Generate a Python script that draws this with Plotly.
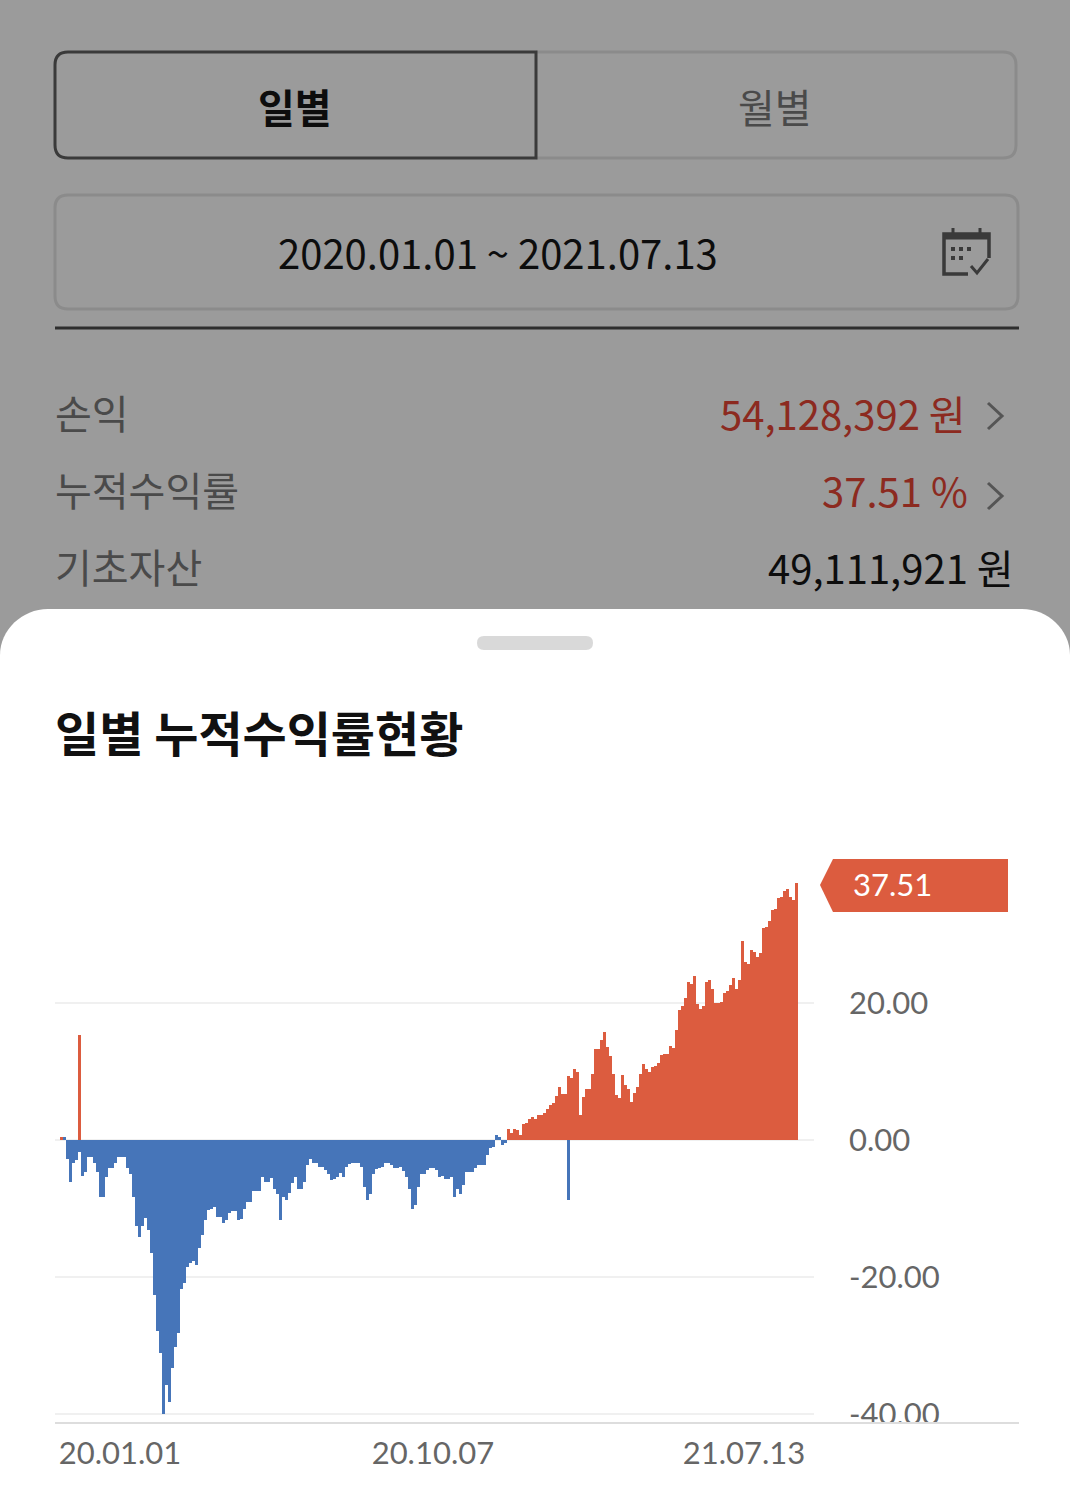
import plotly.graph_objects as go

# Cumulative return (%) per period, oldest first
returns = [
    0.5, 0.4, -2.7, -6.2, -3.3, -2.9, 15.4, -5.3, -4.6, -2.5,
    -2.5, -3.4, -4.6, -8.3, -8.3, -5.35, -4.1, -4.1, -3.4, -2.5,
    -2.5, -2.5, -4.1, -4.9, -8.3, -12.6, -14.1, -12.6, -11.4, -13.1,
    -16.5, -22.6, -27.9, -31.1, -40.0, -35.8, -38.3, -33.3, -30.2, -28.2,
    -21.7, -20.9, -18.5, -18.0, -17.6, -18.3, -15.8, -13.8, -11.7, -10.2,
    -10.0, -9.8, -11.3, -11.3, -12.1, -11.7, -10.7, -10.3, -10.3, -11.7,
    -11.6, -10.1, -9.1, -9.1, -7.4, -7.4, -7.4, -5.4, -6.2, -6.2,
    -5.6, -7.1, -7.9, -11.7, -8.3, -8.8, -7.8, -6.3, -5.4, -7.1,
    -7.1, -6.2, -3.6, -2.8, -3.4, -3.4, -3.9, -3.9, -4.4, -5.0,
    -5.8, -5.7, -5.4, -4.8, -5.4, -3.9, -3.5, -3.4, -3.4, -3.4,
    -3.9, -6.8, -8.8, -7.9, -4.9, -4.3, -4.1, -3.9, -3.4, -3.4,
    -3.7, -4.1, -4.1, -3.9, -4.5, -5.4, -7.1, -10.0, -9.5, -6.8,
    -5.0, -5.0, -4.4, -4.1, -4.1, -4.4, -5.4, -5.2, -5.7, -5.7,
    -5.4, -8.3, -7.1, -7.9, -6.5, -4.6, -4.6, -4.6, -4.1, -3.7,
    -3.7, -3.6, -2.2, -1.2, -1.0, 0.7, 0.4, -0.7, -0.4, 1.6,
    1.0, 1.6, 1.4, 0.8, 2.4, 2.5, 3.0, 3.3, 3.0, 3.6,
    3.7, 3.9, 4.5, 5.1, 5.35, 6.4, 7.8, 6.7, 6.7, 9.3,
    9.0, 10.3, 10.0, 3.65, 6.3, 7.5, 7.5, 9.7, 13.3, 13.3,
    14.6, 15.8, 13.6, 12.2, 9.7, 6.6, 6.2, 9.5, 8.0, 7.4,
    5.6, 6.9, 7.8, 9.7, 11.1, 10.4, 10.0, 10.7, 10.8, 11.2,
    12.4, 12.5, 12.5, 13.7, 13.4, 16.1, 19.0, 19.5, 20.8, 23.1,
    22.8, 23.9, 19.9, 19.1, 19.5, 23.1, 23.3, 22.1, 20.0, 20.0,
    20.2, 21.4, 21.7, 22.6, 23.6, 22.1, 23.4, 29.0, 26.0, 25.7,
    27.7, 27.5, 26.7, 27.3, 30.9, 31.1, 31.9, 33.6, 33.7, 35.3,
    35.5, 36.3, 36.6, 35.5, 35.0, 37.51,
]

# Periods whose intraday low shows as a separate bar under the main one
dip_positions = [6, 169]
dip_values = [-1.7, -8.76]

# Small rebounds that stayed on the loss colour
loss_coloured_positions = [1, 145, 146]

y_ticks = [20, 0, -20, -40]
y_tick_labels = ["20.00", "0.00", "-20.00", "-40.00"]
x_ticks = [19.5, 123.8, 227.5]
x_tick_labels = ["20.01.01", "20.10.07", "21.07.13"]
latest_label = "37.51"

WIDTH, HEIGHT = 1070, 1512
PLOT_L, PLOT_R, PLOT_T, PLOT_B = 55, 814, 830, 1423

GAIN = "#dc5c3f"
LOSS = "#4675b9"
DIM = "#9b9b9b"
CJK = "Noto Sans CJK KR"
LATIN = "Lato"


def px(x):
    return (x - PLOT_L) / (PLOT_R - PLOT_L)


def py(y):
    return (PLOT_B - y) / (PLOT_B - PLOT_T)


def path(*steps):
    out = []
    for step in steps:
        if isinstance(step, str):
            out.append(step)
        else:
            out.append(f"{px(step[0]):.5f},{py(step[1]):.5f}")
    return " ".join(out)


def rounded(x0, y0, x1, y1, r):
    return path("M", (x0 + r, y0), "L", (x1 - r, y0), "Q", (x1, y0), (x1, y0 + r),
                "L", (x1, y1 - r), "Q", (x1, y1), (x1 - r, y1),
                "L", (x0 + r, y1), "Q", (x0, y1), (x0, y1 - r),
                "L", (x0, y0 + r), "Q", (x0, y0), (x0 + r, y0), "Z")


def shape(d, fill=None, line=None, width=0, layer="below"):
    return dict(type="path", xref="paper", yref="paper", path=d, layer=layer,
                fillcolor=fill or "rgba(0,0,0,0)",
                line=dict(color=line or "rgba(0,0,0,0)", width=width))


def label(text, x, y, size, color, anchor="left", bold=False, font=CJK):
    weight = 700 if bold else 400
    return dict(text=text, xref="paper", yref="paper", x=px(x), y=py(y), showarrow=False,
                xanchor=anchor, yanchor="middle", borderpad=0, borderwidth=0,
                font=dict(family=font, size=size, color=color, weight=weight))


positions = list(range(len(returns)))
bar_colours = [GAIN if v >= 0 and i not in loss_coloured_positions else LOSS
               for i, v in enumerate(returns)]

fig = go.Figure()
fig.add_bar(x=positions, y=returns, marker=dict(color=bar_colours, line=dict(width=0)),
            width=1, name="누적수익률")
fig.add_bar(x=dip_positions, y=dip_values, marker=dict(color=LOSS, line=dict(width=0)),
            width=1, name="저점")

shapes = [
    # sheet over the dimmed page
    shape(path("M", (0, HEIGHT), "L", (0, 655), "C", (0, 630), (22, 609), (48, 609),
               "L", (1022, 609), "C", (1048, 609), (1070, 630), (1070, 655),
               "L", (1070, HEIGHT), "Z"), fill="white"),
    shape(rounded(477, 636, 593, 650, 7), fill="#d9d9d9"),
    # day / month toggle
    shape(path("M", (536, 52), "L", (1003, 52), "Q", (1016, 52), (1016, 65),
               "L", (1016, 145), "Q", (1016, 158), (1003, 158), "L", (536, 158)),
          line="#8b8b8b", width=3),
    shape(path("M", (536, 52), "L", (68, 52), "Q", (55, 52), (55, 65),
               "L", (55, 145), "Q", (55, 158), (68, 158), "L", (536, 158), "Z"),
          line="#3a3a3a", width=3),
    # period picker
    shape(rounded(55, 195, 1018, 309, 13), line="#8b8b8b", width=3),
    shape(path("M", (55, 328), "L", (1019, 328)), line="#2e2e2e", width=3),
    # calendar glyph
    shape(path("M", (968, 274), "L", (944, 274), "L", (944, 234), "L", (989, 234), "L", (989, 258)),
          line="#3a3a3a", width=3.5),
    shape(path("M", (944, 237), "L", (989, 237)), line="#3a3a3a", width=5),
    shape(path("M", (953, 228), "L", (953, 236), "M", (980, 228), "L", (980, 236)),
          line="#3a3a3a", width=3),
    shape(path("M", (951, 249), "L", (955, 249), "M", (959, 249), "L", (963, 249),
               "M", (967, 249), "L", (971, 249), "M", (951, 258), "L", (955, 258),
               "M", (959, 258), "L", (963, 258)), line="#3a3a3a", width=4),
    shape(path("M", (971, 266), "L", (977, 273), "L", (988, 259)), line="#3a3a3a", width=3),
    # detail chevrons
    shape(path("M", (988, 403), "L", (1002, 416), "L", (988, 429)), line="#555555", width=3),
    shape(path("M", (988, 483), "L", (1002, 496), "L", (988, 509)), line="#555555", width=3),
    # latest value tag
    shape(path("M", (820, 885), "L", (833, 859), "L", (1008, 859), "L", (1008, 912),
               "L", (833, 912), "Z"), fill=GAIN),
    # the lowest tick label runs into the axis rule and stops there
    shape(path("M", (840, 1423), "L", (960, 1423), "L", (960, 1434), "L", (840, 1434), "Z"),
          fill="white", layer="above"),
    shape(path("M", (55, 1423), "L", (1019, 1423)), line="#dddddd", width=2, layer="above"),
]

annotations = [
    label("일별", 295, 106, 40, "#0d0d0d", "center", bold=True),
    label("월별", 775, 106, 40, "#4a4a4a", "center"),
    label("2020.01.01 ~ 2021.07.13", 498, 252, 40, "#0d0d0d", "center"),
    label("손익", 55, 412, 40, "#4a4a4a"),
    label("54,128,392 원", 966, 413, 40, "#8c2a20", "right"),
    label("누적수익률", 55, 489, 40, "#4a4a4a"),
    label("37.51 %", 968, 490, 40, "#8c2a20", "right"),
    label("기초자산", 55, 566, 40, "#4a4a4a"),
    label("49,111,921 원", 1014, 567, 40, "#0d0d0d", "right"),
    label("일별 누적수익률현황", 55, 731, 48, "#111111", bold=True),
    label(latest_label, 853, 884, 31, "white", font=LATIN),
]

fig.update_layout(
    width=WIDTH, height=HEIGHT, autosize=False,
    margin=dict(l=PLOT_L, r=WIDTH - PLOT_R, t=PLOT_T, b=HEIGHT - PLOT_B, pad=0),
    paper_bgcolor=DIM, plot_bgcolor="rgba(0,0,0,0)",
    barmode="overlay", bargap=0, showlegend=False,
    shapes=shapes, annotations=annotations,
    xaxis=dict(range=[-0.5 - 5 / 3, -0.5 + 754 / 3], tickvals=x_ticks, ticktext=x_tick_labels,
               showgrid=False, zeroline=False, showline=False, ticks="",
               ticklabelstandoff=9, fixedrange=True,
               tickfont=dict(family=LATIN, size=31, color="#666666")),
    yaxis=dict(range=[(1140 - PLOT_B) / 6.85, (1140 - PLOT_T) / 6.85], side="right",
               tickvals=y_ticks, ticktext=y_tick_labels, gridcolor="#f0f0f0", gridwidth=2,
               zeroline=False, showline=False, ticks="", ticklabelstandoff=34, fixedrange=True,
               tickfont=dict(family=LATIN, size=31, color="#666666")),
)

fig.write_html("out.html", config=dict(displayModeBar=False))
